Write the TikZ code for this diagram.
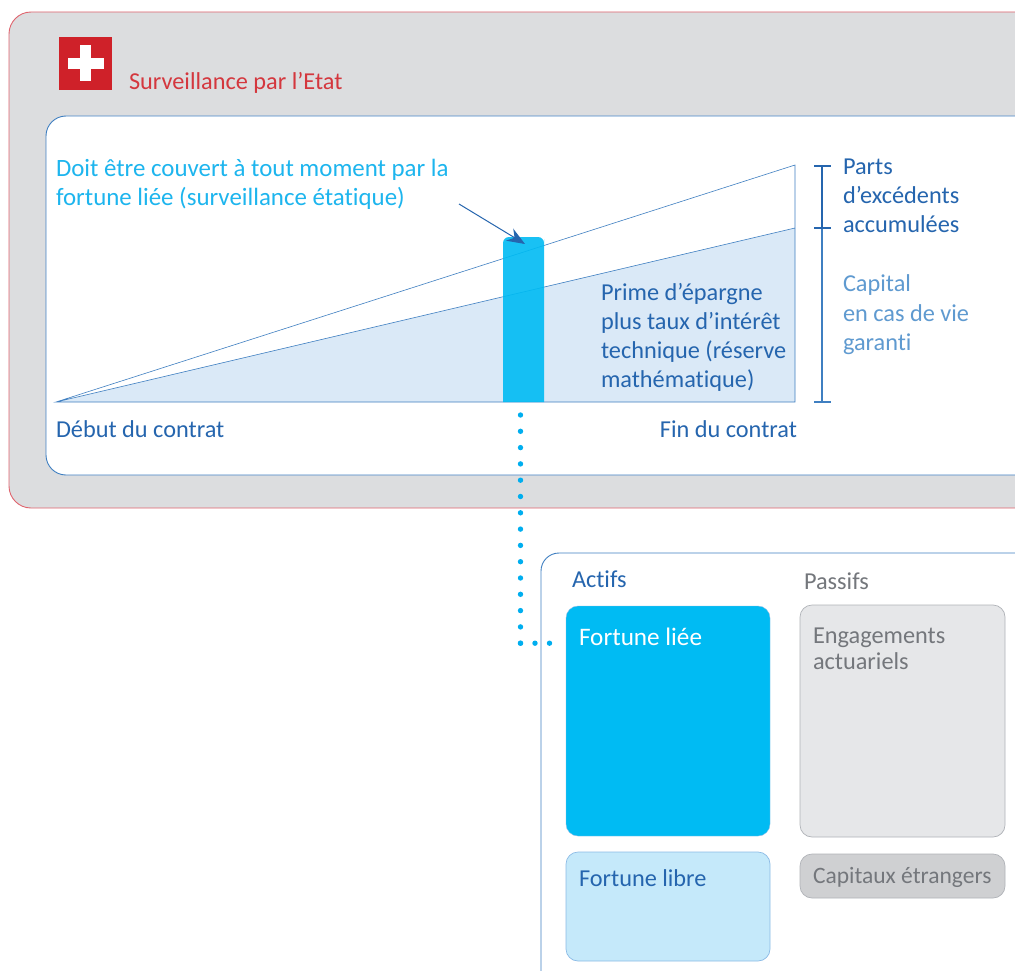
\documentclass[tikz,border=0pt]{standalone}
\usepackage{fontspec}
\setmainfont{Carlito}[Ligatures=NoCommon]
\usepackage{xcolor}
\definecolor{stateRed}{HTML}{CF2129}
\definecolor{borderRed}{HTML}{E0646E}
\definecolor{panelGrey}{HTML}{DCDDDF}
\definecolor{lineBlue}{HTML}{3F7FC1}
\definecolor{darkBlue}{HTML}{2565AE}
\definecolor{midBlue}{HTML}{5F9AD0}
\definecolor{skyBlue}{HTML}{1DB5EE}
\definecolor{dotBlue}{HTML}{00AEEF}
\definecolor{barBlue}{HTML}{00BBF3}
\definecolor{paleBlue}{HTML}{DAE9F7}
\definecolor{libreBlue}{HTML}{C5E9FA}
\definecolor{libreEdge}{HTML}{8CBBE6}
\definecolor{passifGrey}{HTML}{E6E7E9}
\definecolor{capitalGrey}{HTML}{CFD0D2}
\definecolor{edgeGrey}{HTML}{B0B3B8}
\definecolor{textGrey}{HTML}{74777C}
\usetikzlibrary{arrows.meta}

\begin{document}
\begin{tikzpicture}[x=1pt,y=-1pt,
        panel/.style = {rectangle, anchor=north west, inner sep=0pt, outer sep=0pt},
        label/.style = {anchor=north west, inner sep=0pt, outer sep=0pt, align=left,
                        font=\fontsize{24.3}{29.2}\selectfont},
        bracket/.style = {line width=1.6pt},
        dots/.style = {dotBlue, line width=5.4pt, line cap=round}]
        \useasboundingbox (0,0) rectangle (1015,971);
        \clip (0,0) rectangle (1015,971);

        % Supervision panel
        \node[panel,fill=panelGrey,draw=borderRed,line width=0.9pt,rounded corners=22pt,
              minimum width=1060pt,minimum height=496pt] (state) at (9,12) {};
        \node[panel,fill=white,draw=lineBlue,line width=0.9pt,rounded corners=20pt,
              minimum width=1020pt,minimum height=359pt] (contract) at (46,116) {};

        % Swiss flag
        \node[panel,fill=stateRed,minimum size=53pt] (flag) at (59,37) {};
        \node[fill=white,inner sep=0pt,minimum width=36pt,minimum height=11.5pt] (crossH) at (flag.center) {};
        \node[fill=white,inner sep=0pt,minimum width=11.5pt,minimum height=36pt] (crossV) at (flag.center) {};
        \node[label,stateRed!90!white] (stateText) at (129,72) {Surveillance par l’Etat};

        % Reserve triangle
        \fill[paleBlue] (56,402) -- (795,228) -- (795,402) -- cycle;
        \draw[lineBlue,line width=0.6pt] (795,228) -- (56,402) -- (795,402) -- (795,165) -- (56,402);

        % Covering bar
        \fill[barBlue,opacity=0.9] (503,402) -- (503,245) [rounded corners=6pt] -- (503,237) -- (544,237)
            -- (544,245) [sharp corners] -- (544,402) -- cycle;
        \coordinate (barTop) at (525,244);
        \coordinate (barFoot) at (520.5,415);
        \coordinate (arrowStart) at (459,204);
        \draw[darkBlue,line width=1pt,-{Stealth[length=18pt,width=14pt]}] (arrowStart) -- (barTop);

        % Brackets
        \coordinate (topEnd) at (822,166);
        \coordinate (midEnd) at (822,228);
        \coordinate (lowEnd) at (822,402);
        \draw[bracket,darkBlue] (topEnd) -- (midEnd);
        \draw[bracket,lineBlue] (midEnd) -- (lowEnd);
        \draw[bracket,darkBlue] ([xshift=-8pt]topEnd) -- ([xshift=9pt]topEnd);
        \draw[bracket,darkBlue] ([xshift=-8pt]midEnd) -- ([xshift=9pt]midEnd);
        \draw[bracket,lineBlue] ([xshift=-8pt]lowEnd) -- ([xshift=9pt]lowEnd);

        % Texts of the contract panel
        \node[label,skyBlue,font=\fontsize{24.9}{29.2}\selectfont] (coverText) at (56,159) {Doit être couvert à tout moment par la\\fortune liée (surveillance étatique)};
        \node[label,darkBlue] (primeText) at (601,283) {Prime d’épargne\\plus taux d’intérêt\\technique (réserve\\mathématique)};
        \node[label,darkBlue] (partsText) at (843,159) {Parts\\d’excédents\\accumulées};
        \node[label,midBlue] (capitalText) at (843,275) {Capital\\en cas de vie\\garanti};
        \node[label,darkBlue] (startText) at (56,421) {Début du contrat};
        \node[label,darkBlue,anchor=north east] (endText) at (797,421) {Fin du contrat};

        % Balance sheet
        \node[panel,fill=white,draw=lineBlue,line width=0.9pt,rounded corners=18pt,
              minimum width=520pt,minimum height=460pt] (balance) at (541,553) {};
        \node[label,darkBlue] (actifsText) at (572,571) {Actifs};
        \node[label,textGrey] (passifsText) at (804,573) {Passifs};

        \node[panel,fill=barBlue,draw=libreEdge,line width=0.4pt,rounded corners=12pt,
              minimum width=204pt,minimum height=230pt] (liee) at (566,606) {};
        \node[panel,fill=libreBlue,draw=libreEdge,line width=0.7pt,rounded corners=12pt,
              minimum width=204pt,minimum height=109pt] (libre) at (566,852) {};
        \node[panel,fill=passifGrey,draw=edgeGrey,line width=0.7pt,rounded corners=12pt,
              minimum width=205pt,minimum height=232pt] (engage) at (800,605) {};
        \node[panel,fill=capitalGrey,draw=edgeGrey,line width=0.7pt,rounded corners=12pt,
              minimum width=205pt,minimum height=44pt] (etrangers) at (800,854) {};

        \node[label,white,font=\fontsize{25.2}{29.2}\selectfont] (lieeText) at (579,628) {Fortune liée};
        \node[label,darkBlue] (libreText) at (579,870) {Fortune libre};
        \node[label,textGrey,font=\fontsize{24.3}{26}\selectfont] (engageText) at (813,628) {Engagements\\actuariels};
        \node[label,textGrey,font=\fontsize{23.5}{29.2}\selectfont] (etrangersText) at (813,867) {Capitaux étrangers};

        % Dotted link
        \coordinate (dotCorner) at (520.5,643.2);
        \coordinate (dotEnd) at (549.5,643.2);
        \draw[dots,dash pattern=on 0pt off 16.3pt] (barFoot) -- (dotCorner);
        \draw[dots,dash pattern=on 0pt off 14.5pt] (dotCorner) -- (dotEnd);
    \end{tikzpicture}
\end{document}
